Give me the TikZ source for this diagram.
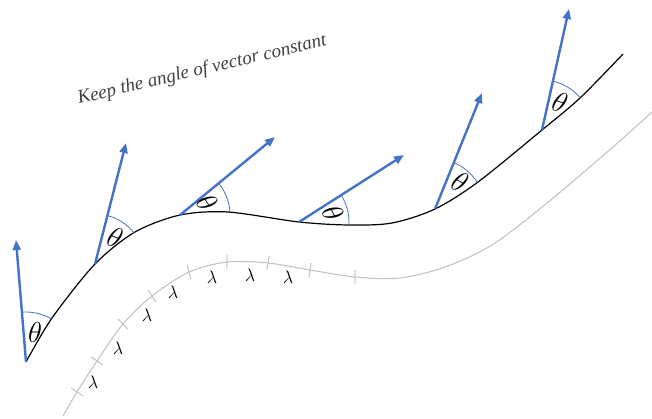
\documentclass[tikz,border=0pt]{standalone}
\usepackage{amsmath, amssymb}
\usepackage{fontspec}
\usepackage{xcolor}
\usepackage{tikz}
\usetikzlibrary{arrows.meta, calc, angles}
\newfontfamily\notefont{Liberation Serif}
\definecolor{vblue}{RGB}{68, 114, 196}
\definecolor{pathgray}{RGB}{195, 195, 195}
\tikzset{
  curve/.style={draw=black, line width=1.2pt},
  offset/.style={draw=pathgray, line width=1.1pt},
  vec/.style={draw=vblue, line width=2.4pt,
    -{Triangle[length=10pt, width=8pt]}},
  ang/.style={draw=vblue, line width=0.8pt, angle radius=50pt},
  tlabel/.style={font=\fontsize{24.88}{30}\selectfont, scale=1.16, inner sep=0pt},
  llabel/.style={font=\fontsize{17.28}{20}\selectfont, scale=1.05, inner sep=0pt},
  tick/.style={draw=pathgray, line width=1.1pt},
}
\begin{document}
\begin{tikzpicture}[x=1pt, y=-1pt, >=Stealth]
\useasboundingbox (0,0) rectangle (652,418);

% bases, tips and arc ends on the curve
\coordinate (b1) at (26,362);  \coordinate (t1) at (16,240);  \coordinate (c1) at (52,318);
\coordinate (b2) at (95,264);  \coordinate (t2) at (126,143); \coordinate (c2) at (135,232);
\coordinate (b3) at (180,215); \coordinate (t3) at (275,137); \coordinate (c3) at (228,212);
\coordinate (b4) at (299,222); \coordinate (t4) at (404,155); \coordinate (c4) at (349,225);
\coordinate (b5) at (435,209); \coordinate (t5) at (482,93);  \coordinate (c5) at (478,182);
\coordinate (b6) at (542,130); \coordinate (t6) at (569,9);   \coordinate (c6) at (580,98);

% the curve
\draw[curve] plot[smooth, tension=0.5] coordinates {(b1) (c1) (b2) (c2) (b3) (c3)
  (b4) (c4) (392,223) (b5) (c5) (b6) (c6) (623,54)};

% the offset path
\foreach \x/\y [count=\i] in {63/416, 77/392, 97/361, 123/324, 152/296, 189/272,
  227/262, 268/263, 310/270, 355/277, 400/278, 445/267, 492/245, 547/203, 613/147, 652/112}
  \coordinate (g\i) at (\x,\y);
\draw[offset] plot[smooth, tension=0.5] coordinates {(g1) (g2) (g3) (g4) (g5) (g6) (g7)
  (g8) (g9) (g10) (g11) (g12) (g13) (g14) (g15) (g16)};
\foreach \i [evaluate=\i as \j using int(\i+1)] in {2,...,10}
  \draw[tick] ($(g\i)!7pt!90:(g\j)$) -- ($(g\i)!7pt!-90:(g\j)$);

\node[llabel] (l1) at (93,382) {$\lambda$};
\node[llabel] (l2) at (118,348) {$\lambda$};
\node[llabel] (l3) at (147,315) {$\lambda$};
\node[llabel] (l4) at (173,292) {$\lambda$};
\node[llabel] (l5) at (212,277) {$\lambda$};
\node[llabel] (l6) at (250,275) {$\lambda$};
\node[llabel] (l7) at (288,277) {$\lambda$};

% vectors and angles
\foreach \i in {1,...,6}{
  \pic[ang] {angle=c\i--b\i--t\i};
  \draw[vec] (b\i) -- (t\i);
}
\node[tlabel] (th1) at (35,332) {$\theta$};
\node[tlabel, rotate=-20] (th2) at (115,237) {$\theta$};
\node[tlabel, rotate=-56] (th3) at (207,203) {$\theta$};
\node[tlabel, rotate=-63] (th4) at (333,213) {$\theta$};
\node[tlabel, rotate=-28] (th5) at (460,182) {$\theta$};
\node[tlabel, rotate=-19] (th6) at (560,102) {$\theta$};

\node[anchor=base west, rotate=13.3, inner sep=0pt, text=black!75,
  font=\notefont\fontsize{19}{22}\selectfont\itshape] (title) at (79,104)
  {Keep the angle of vector constant};

\end{tikzpicture}
\end{document}
